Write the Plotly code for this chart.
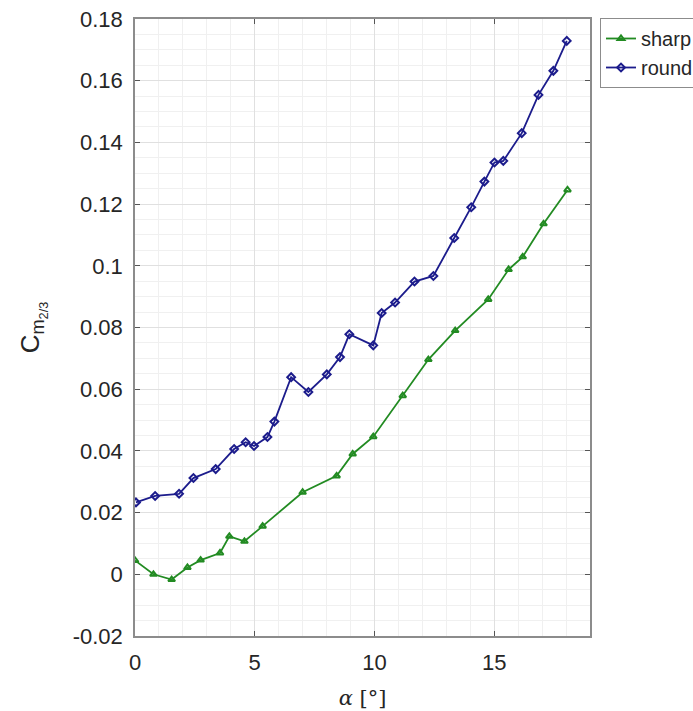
import plotly.graph_objects as go

# Data
sharp_alpha = [0.0, 0.77, 1.53, 2.19, 2.74, 3.55, 3.94, 4.57, 5.33, 7.0, 8.42, 9.09,
               9.95, 11.18, 12.25, 13.37, 14.75, 15.6, 16.19, 17.06, 18.06]
sharp_cm = [0.0045, 0.0, -0.0017, 0.0022, 0.0046, 0.0069, 0.0123, 0.0107, 0.0156, 0.0266,
            0.0319, 0.039, 0.0446, 0.0579, 0.0696, 0.079, 0.0891, 0.0988, 0.1029, 0.1136, 0.1246]

round_alpha = [0.04, 0.84, 1.84, 2.44, 3.37, 4.14, 4.62, 4.97, 5.53, 5.82, 6.52, 7.24,
               8.01, 8.56, 8.95, 9.95, 10.3, 10.86, 11.67, 12.46, 13.33, 14.04, 14.59,
               15.01, 15.38, 16.15, 16.85, 17.47, 18.03]
round_cm = [0.0233, 0.0254, 0.0261, 0.0312, 0.0341, 0.0406, 0.0428, 0.0416, 0.0445, 0.0495,
            0.0639, 0.0591, 0.0648, 0.0704, 0.0778, 0.0742, 0.0847, 0.0881, 0.0949, 0.0967,
            0.109, 0.119, 0.1273, 0.1335, 0.134, 0.143, 0.1554, 0.1632, 0.1729]

y_tickvals = [-0.02, 0, 0.02, 0.04, 0.06, 0.08, 0.1, 0.12, 0.14, 0.16, 0.18]
y_ticktext = ["-0.02", "0", "0.02", "0.04", "0.06", "0.08", "0.1", "0.12", "0.14", "0.16", "0.18"]
x_tickvals = [0, 5, 10, 15]
x_ticktext = ["0", "5", "10", "15"]

GREEN = "#228b22"
BLUE = "#1c1c8c"
FONT = "Liberation Sans, Arial, sans-serif"

fig = go.Figure()
fig.add_trace(go.Scatter(
    x=sharp_alpha, y=sharp_cm, name="sharp", mode="lines+markers",
    line=dict(color=GREEN, width=1.8),
    marker=dict(symbol="triangle-up-open", size=6, color=GREEN, line=dict(width=2)),
))
fig.add_trace(go.Scatter(
    x=round_alpha, y=round_cm, name="round", mode="lines+markers",
    line=dict(color=BLUE, width=1.8),
    marker=dict(symbol="diamond-open", size=6, color=BLUE, line=dict(width=2)),
))

axis_common = dict(
    showline=True, linecolor="#8c8c8c", linewidth=1.5, mirror="allticks",
    ticks="inside", ticklen=5, tickcolor="#555555",
    showgrid=True, gridcolor="#e0e0e0", gridwidth=1,
    zeroline=False,
    tickfont=dict(family=FONT, size=22, color="#262626"),
    automargin=False,
)

fig.update_xaxes(
    range=[0, 19], tickvals=x_tickvals, ticktext=x_ticktext,
    minor=dict(dtick=1, showgrid=True, gridcolor="#f0f0f0", gridwidth=1, ticks=""),
    ticklabelstandoff=6,
    title=dict(text="<i>α</i> [°]", font=dict(family="DejaVu Serif, serif", size=21, color="#262626"),
               standoff=16),
    **axis_common,
)
fig.update_yaxes(
    range=[-0.02, 0.18], tickvals=y_tickvals, ticktext=y_ticktext,
    minor=dict(dtick=0.005, tick0=0, showgrid=True, gridcolor="#f0f0f0", gridwidth=1, ticks=""),
    ticklabelstandoff=6,
    title=dict(text="C<sub>m<sub>2/3</sub></sub>", font=dict(family=FONT, size=26, color="#262626"),
               standoff=26),
    **axis_common,
)

fig.update_layout(
    width=693, height=711,
    margin=dict(l=135, r=103, t=19, b=75, autoexpand=False),
    plot_bgcolor="white", paper_bgcolor="white",
    legend=dict(
        xref="container", yref="container",
        x=600 / 693, y=1 - 18 / 711, xanchor="left", yanchor="top",
        bordercolor="#8c8c8c", borderwidth=1, bgcolor="white",
        font=dict(family=FONT, size=20, color="#262626"),
        tracegroupgap=0, itemwidth=30,
    ),
    showlegend=True,
)

fig.write_html("out.html")
